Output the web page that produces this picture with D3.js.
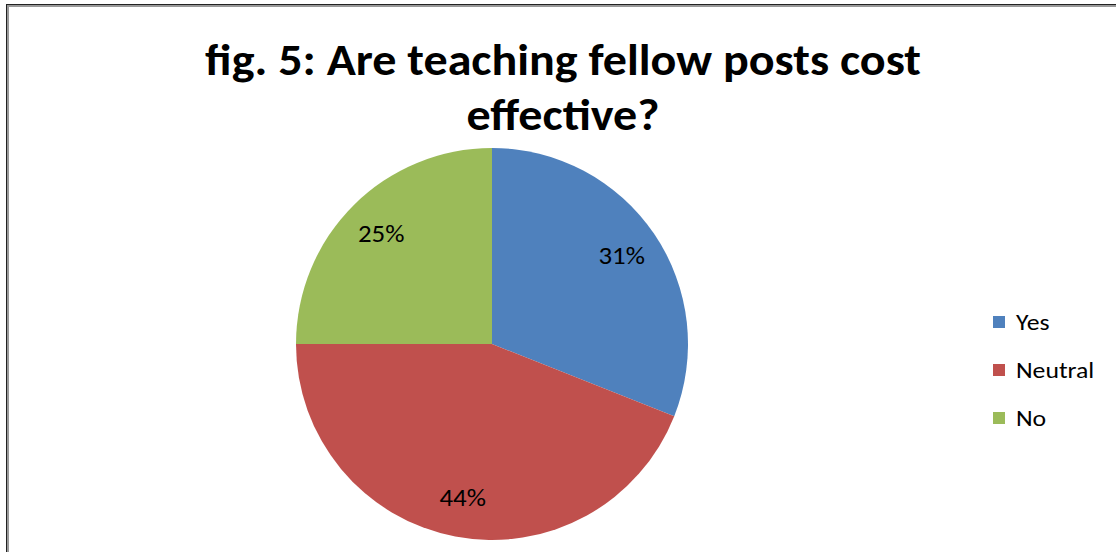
<!DOCTYPE html>
<html>
<head>
<meta charset="utf-8">
<script src="https://cdn.jsdelivr.net/npm/d3@7"></script>
<style>
  body { margin: 0; background: #fff; }
  text { font-family: Carlito, "Open Sans", "DejaVu Sans", sans-serif; }
</style>
</head>
<body>
<div id="chart"></div>
<script>
var categories = ["Yes", "Neutral", "No"];
var values = [31, 44, 25];
var colors = ["#4F81BD", "#C0504D", "#9BBB59"];
var titleLines = ["fig. 5: Are teaching fellow posts cost", "effective?"];

var width = 1116, height = 552;
var cx = 492, cy = 344, radius = 196;
var stretch = 1.12; // text in the source looks a bit wide

var svg = d3.select("#chart").append("svg")
  .attr("width", width)
  .attr("height", height);

// frame (only top and left edges show in the crop)
svg.append("line").attr("x1", 6).attr("y1", 4.5).attr("x2", width).attr("y2", 4.5)
  .attr("stroke", "#222").attr("stroke-width", 1);
svg.append("line").attr("x1", 6).attr("y1", 6).attr("x2", width).attr("y2", 6)
  .attr("stroke", "#999").attr("stroke-width", 2);
svg.append("line").attr("x1", 6.5).attr("y1", 4).attr("x2", 6.5).attr("y2", height)
  .attr("stroke", "#222").attr("stroke-width", 1);
svg.append("line").attr("x1", 8).attr("y1", 5).attr("x2", 8).attr("y2", height)
  .attr("stroke", "#999").attr("stroke-width", 2);

// title
var title = svg.append("g");
var tl = title.selectAll("text")
  .data(titleLines)
  .enter().append("text")
  .attr("text-anchor", "middle")
  .attr("font-size", 44)
  .attr("font-weight", "bold")
  .attr("fill", "#000")
  .text(function(d) { return d; });

// match first line width to the reference
var w = tl.node().getComputedTextLength();
var sx = 716 / w;
tl.attr("transform", function(d, i) {
  return "translate(563," + (75 + i * 55) + ") scale(" + sx + ",1)";
});

var pie = d3.pie().sort(null).value(function(d) { return d; });
var arc = d3.arc().innerRadius(0).outerRadius(radius);
var arcs = pie(values);

var g = svg.append("g").attr("transform", "translate(" + cx + "," + cy + ")");

g.selectAll("path")
  .data(arcs)
  .enter().append("path")
  .attr("d", arc)
  .attr("fill", function(d, i) { return colors[i]; });

var labelArc = d3.arc().innerRadius(radius * 0.8).outerRadius(radius * 0.8);
g.selectAll("text.lbl")
  .data(arcs)
  .enter().append("text")
  .attr("class", "lbl")
  .attr("transform", function(d) {
    return "translate(" + labelArc.centroid(d) + ") scale(" + stretch + ",1)";
  })
  .attr("text-anchor", "middle")
  .attr("dy", "0.35em")
  .attr("font-size", 24)
  .attr("fill", "#000")
  .text(function(d) { return d.data + "%"; });

// legend
var legend = svg.append("g").attr("transform", "translate(993,316)");
var item = legend.selectAll("g")
  .data(categories)
  .enter().append("g")
  .attr("transform", function(d, i) { return "translate(0," + i * 48 + ")"; });
item.append("rect")
  .attr("width", 12).attr("height", 12)
  .attr("fill", function(d, i) { return colors[i]; });
item.append("text")
  .attr("transform", "translate(23,6) scale(" + stretch + ",1)")
  .attr("dy", "0.35em")
  .attr("font-size", 23)
  .attr("fill", "#000")
  .text(function(d) { return d; });
</script>
</body>
</html>
